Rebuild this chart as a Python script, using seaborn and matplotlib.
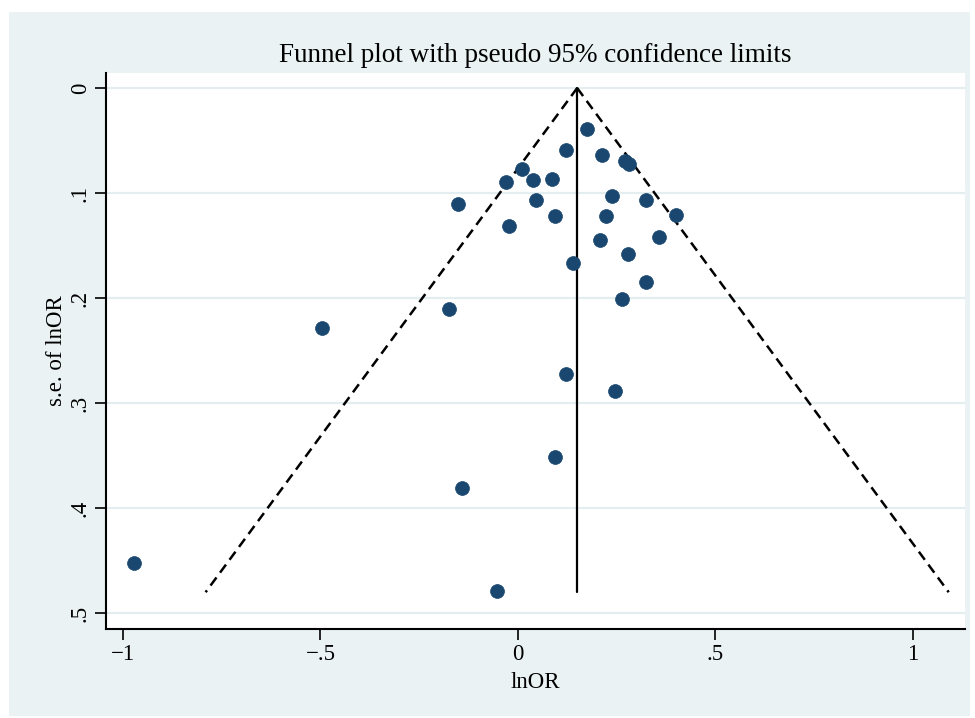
import matplotlib
matplotlib.use("Agg")
import matplotlib.pyplot as plt
import seaborn as sns
import numpy as np
import pandas as pd
from matplotlib.patches import Rectangle

# Study estimates
ln_or = [0.174, 0.122, 0.214, 0.271, 0.280, 0.010, -0.030, 0.039, 0.086,
         0.239, 0.324, -0.151, 0.047, 0.400, 0.224, 0.095, -0.022, 0.358,
         0.208, 0.278, 0.140, 0.324, 0.263, -0.174, -0.496, 0.122, 0.246,
         0.095, -0.142, -0.973, -0.052]
se_ln_or = [0.039, 0.059, 0.064, 0.069, 0.072, 0.077, 0.089, 0.088, 0.087,
            0.103, 0.107, 0.110, 0.107, 0.121, 0.122, 0.122, 0.131, 0.142,
            0.145, 0.158, 0.167, 0.185, 0.201, 0.210, 0.228, 0.272, 0.288,
            0.351, 0.381, 0.452, 0.479]

pooled = 0.15
se_max = 0.48
z = 1.96

x_ticks = [-1, -0.5, 0, 0.5, 1]
x_tick_labels = ["\u22121", "\u2212.5", "0", ".5", "1"]
y_ticks = [0, 0.1, 0.2, 0.3, 0.4, 0.5]
y_tick_labels = ["0", ".1", ".2", ".3", ".4", ".5"]

title = "Funnel plot with pseudo 95% confidence limits"
x_label = "lnOR"
y_label = "s.e. of lnOR"

sns.set_theme(style="white")
plt.rcParams['font.family'] = ['Liberation Serif', 'DejaVu Serif']
plt.rcParams['text.color'] = 'black'
plt.rcParams['axes.labelcolor'] = 'black'
plt.rcParams['xtick.color'] = 'black'
plt.rcParams['ytick.color'] = 'black'

fig = plt.figure(figsize=(9.75, 7.18), dpi=100)
fig.patch.set_facecolor("white")
bg = Rectangle((9 / 975, 2 / 718), (970 - 9) / 975, (706 - 2) / 718,
               transform=fig.transFigure, facecolor="#EAF2F3", edgecolor="none", zorder=-10)
fig.add_artist(bg)

ax = fig.add_axes([106 / 975, (718 - 629) / 718, (965 - 106) / 975, (629 - 73) / 718])
ax.set_zorder(1)
ax.set_facecolor("white")

df = pd.DataFrame({"lnOR": ln_or, "se": se_ln_or})

# funnel limits
se_line = np.array([0.0, se_max])
lines = pd.DataFrame({
    "x": np.concatenate([pooled - z * se_line, pooled + z * se_line]),
    "y": np.concatenate([se_line, se_line]),
    "side": ["lo", "lo", "hi", "hi"],
})
for side, g in lines.groupby("side"):
    ax.plot(g["x"], g["y"], color="black", lw=1.8, linestyle=(0, (4, 2.4)), zorder=2)
ax.plot([pooled, pooled], [0, se_max], color="black", lw=1.6, zorder=2)

sns.scatterplot(data=df, x="lnOR", y="se", ax=ax, s=100, color="#1A476F",
                edgecolor="#1A476F", linewidth=0.5, zorder=3, legend=False)

ax.set_xlim(-1.043, 1.132)
ax.set_ylim(0.515, -0.0143)

for yt in y_ticks:
    ax.axhline(yt, color="#E4EEF0", lw=1.6, zorder=1)

ax.set_xticks(x_ticks)
ax.set_xticklabels(x_tick_labels, fontsize=16.5, color="black")
ax.set_yticks(y_ticks)
ax.set_yticklabels(y_tick_labels, fontsize=16.5, rotation=90, va="center", color="black")
ax.tick_params(axis="both", which="major", length=8, width=1.2, color="black",
               direction="out", bottom=True, left=True, pad=3)

for s in ["top", "right"]:
    ax.spines[s].set_visible(False)
for s in ["left", "bottom"]:
    ax.spines[s].set_color("black")
    ax.spines[s].set_linewidth(1.5)

ax.set_xlabel(x_label, fontsize=16.5, labelpad=5, color="black")
ax.set_ylabel(y_label, fontsize=16.5, labelpad=2, color="black")
ax.set_title(title, fontsize=19.5, pad=8, color="black")

fig.savefig("out.png", dpi=100, facecolor=fig.get_facecolor())
